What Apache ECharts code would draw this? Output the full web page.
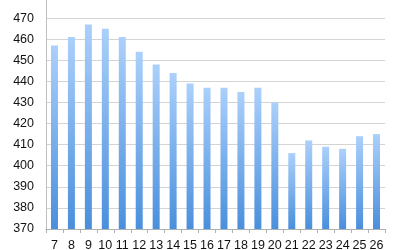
<!DOCTYPE html>
<html><head><meta charset="utf-8">
<script src="https://cdn.jsdelivr.net/npm/echarts@6/dist/echarts.min.js"></script>
<style>html,body{margin:0;padding:0;background:#fff}#c{width:400px;height:250px}</style>
</head><body><div id="c"></div>
<script>
const categories = ['7','8','9','10','11','12','13','14','15','16','17','18','19','20','21','22','23','24','25','26'];
const values = [457,461,467,465,461,454,448,444,439,437,437,435,437,430,406,412,409,408,414,415];
const yMin = 370, yMax = 480, yStep = 10;

const chart = echarts.init(document.getElementById('c'), null, {renderer:'canvas'});
chart.setOption({
  animation:false,
  grid:{left:46, right:15, top:-3, bottom:21, containLabel:false, outerBoundsMode:'none'},
  xAxis:{type:'category', data:categories,
    axisLine:{lineStyle:{color:'#b0b0b0'}},
    axisTick:{show:true, length:4, lineStyle:{color:'#b0b0b0'}},
    axisLabel:{color:'#111', fontSize:12.5, interval:0, fontFamily:'Liberation Sans, Arial, sans-serif', margin:10}},
  yAxis:{type:'value', min:yMin, max:yMax, interval:yStep,
    axisLine:{show:true, lineStyle:{color:'#c0c0c0'}},
    axisTick:{show:false},
    splitLine:{lineStyle:{color:'#d4d4d4'}},
    axisLabel:{color:'#111', fontSize:12.5, fontFamily:'Liberation Sans, Arial, sans-serif', margin:12}},
  series:[{type:'bar', data:values, barWidth:7,
    itemStyle:{color:new echarts.graphic.LinearGradient(0,0,0,1,[{offset:0,color:'#abd0fb'},{offset:1,color:'#4a8fdc'}])}}]
});
</script></body></html>
